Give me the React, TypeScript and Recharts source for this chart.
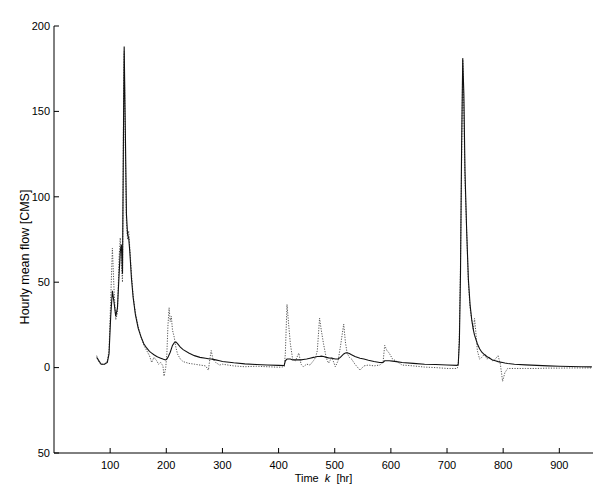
import { LineChart, Line, XAxis, YAxis, Label } from "recharts";

// time in hours
const hours = [
  76, 80, 84, 90, 95, 98, 101, 104, 107, 110, 113, 116, 118, 120, 122, 124, 125, 127, 129, 131,
  133, 135, 138, 141, 145, 150, 155, 160, 165, 170, 174, 178, 183, 186, 190, 194, 196, 199, 201, 203,
  205, 207, 209, 211, 214, 217, 220, 225, 230, 240, 250, 260, 270, 275, 278, 280, 283, 288, 295, 300,
  320, 340, 360, 380, 400, 410, 412, 415, 418, 421, 425, 430, 436, 440, 444, 450, 456, 462, 466, 469,
  473, 476, 480, 485, 489, 495, 501, 506, 510, 516, 519, 522, 526, 530, 536, 545, 552, 560, 570, 580,
  586, 589, 593, 597, 603, 610, 620, 640, 660, 680, 700, 718, 720, 722, 724, 726, 728, 730, 732, 735,
  738, 741, 744, 747, 749, 751, 754, 758, 762, 767, 771, 776, 781, 786, 791, 795, 799, 803, 808, 820,
  840, 860, 880, 900, 920, 940, 958,
];

// measured discharge (dotted)
const observed = [
  7, 3, 2, 2, 4, 10, 40, 70, 45, 28, 32, 65, 76, 60, 50, 160, 185, 130, 85, 75,
  80, 70, 55, 42, 32, 24, 18, 13, 10, 7, 3, 6, 4, 2, 3, 1, -5, 0, 8, 25,
  35, 27, 30, 22, 18, 12, 8, 5, 3.5, 2.5, 2, 1.5, 1, -1.5, 6, 10, 5, 3, 1.5, 2,
  1, 0.5, 0.8, 0.5, 0.2, 0.5, 8, 37, 25, 14, 5, 4, 8.5, 2, 0.5, 2, 1.5, 4, 6, 10,
  29, 22, 14, 5.5, 2.6, 6, 0.5, 4, 12, 25.5, 15, 8.5, 6, 5, 2, -1.5, 1, 1.5, 1, 1.5,
  3, 13, 10, 8.5, 5, 3.7, 1.5, 1, 0.3, 0, -0.5, -0.5, 1, 20, 61, 120, 181, 150, 110, 80,
  50, 35, 28, 22, 28.8, 22, 10, 5, 6, 8, 5, 6, 4, 5, 7, 2, -8, -3, -0.5, -0.5,
  -0.5, -0.5, -0.3, -0.3, -0.2, -0.2, -0.2,
];

// model output (solid)
const modelled = [
  6, 4, 2, 2, 3, 8, 30, 45, 38, 30, 35, 55, 68, 72, 55, 150, 188, 140, 90, 78,
  76, 68, 52, 41, 31, 23, 18, 14, 11.5, 9.5, 8.5, 7.5, 6.5, 6, 5.5, 5, 4.8, 4.5, 5, 6,
  7.5, 9, 11, 13, 14.5, 15, 14, 12, 10.5, 8.5, 7, 6, 5.5, 5.2, 5, 5, 4.8, 4.5, 4, 3.6,
  2.8, 2.2, 1.8, 1.5, 1.3, 1.2, 4, 5, 5, 5, 4.5, 4.5, 4.5, 4.5, 4.7, 5, 5.5, 6, 6.2, 6.5,
  6.5, 6.7, 6.5, 6, 5.7, 5.5, 5, 5, 6, 8, 8.5, 8.7, 8.3, 7.5, 6.5, 5.5, 5, 4.3, 3.6, 3,
  3, 4, 4, 4, 3.8, 3.5, 3, 2.5, 2, 1.8, 1.5, 1.3, 2, 15, 55, 130, 181, 160, 115, 80,
  52, 37, 28, 22, 19, 17, 14, 11, 9, 7.5, 6.5, 5.5, 4.5, 4, 3.5, 3.2, 3, 2.7, 2.4, 2,
  1.6, 1.3, 1, 0.8, 0.6, 0.5, 0.4,
];

const xTicks = [100, 200, 300, 400, 500, 600, 700, 800, 900];
const yTicks = [-50, 0, 50, 100, 150, 200];
const yTickLabels = ["50", "0", "50", "100", "150", "200"];

const data = hours.map((k, i) => ({ k, obs: observed[i], sim: modelled[i] }));

const FONT = "'Liberation Sans', Arial, Helvetica, sans-serif";
const TICK = 5;
const X_GAP = 8;
const Y_GAP = 4;

function BottomTick({ x, y, payload }: any) {
  const y0 = y - X_GAP;
  return (
    <g>
      <line x1={x} x2={x} y1={y0} y2={y0 - TICK} stroke="#000" />
      <text x={x} y={y} dy={8} textAnchor="middle" fontSize={11} fontFamily={FONT} fill="#000">
        {payload.value}
      </text>
    </g>
  );
}

function LeftTick({ x, y, payload }: any) {
  const x0 = x + Y_GAP;
  return (
    <g>
      <line x1={x0} x2={x0 + TICK} y1={y} y2={y} stroke="#000" />
      <text x={x} y={y} dy="0.35em" textAnchor="end" fontSize={11} fontFamily={FONT} fill="#000">
        {yTickLabels[yTicks.indexOf(payload.value)]}
      </text>
    </g>
  );
}

function TopTick({ x, y }: any) {
  return <line x1={x} x2={x} y1={y} y2={y + TICK} stroke="#000" />;
}

function RightTick({ x, y }: any) {
  return <line x1={x} x2={x - TICK} y1={y} y2={y} stroke="#000" />;
}

export default function App() {
  return (
    <div style={{ position: "absolute", left: 0, top: 0, background: "#fff" }}>
      <LineChart
        width={595}
        height={485}
        data={data}
        margin={{ top: 26, right: 2, bottom: 0, left: 0 }}
      >
        <XAxis
          dataKey="k"
          type="number"
          domain={[0, 960]}
          ticks={xTicks}
          allowDataOverflow
          interval={0}
          height={32}
          tickSize={0}
          tickMargin={X_GAP}
          tick={BottomTick}
          axisLine={{ stroke: "#000" }}
        >
          <Label
            content={({ viewBox }: any) => (
              <text
                x={viewBox.x + viewBox.width / 2}
                y={viewBox.y + 29}
                textAnchor="middle"
                fontSize={11}
                fontFamily={FONT}
                fill="#000"
                xmlSpace="preserve"
              >
                Time  <tspan fontStyle="italic">k</tspan>  [hr]
              </text>
            )}
          />
        </XAxis>
        <XAxis
          xAxisId="top"
          dataKey="k"
          type="number"
          orientation="top"
          domain={[0, 960]}
          ticks={xTicks}
          allowDataOverflow
          interval={0}
          height={0}
          tickSize={0}
          tickMargin={0}
          tick={TopTick}
          axisLine={{ stroke: "#000" }}
        >
          <Label
            content={({ viewBox }: any) => (
              <text
                x={viewBox.x + viewBox.width / 2}
                y={viewBox.y - 7}
                textAnchor="middle"
                fontSize={11}
                fontFamily={FONT}
                fill="#000"
              >
                Rainfalldischarge modelling error (MSE) = 47.9018
              </text>
            )}
          />
        </XAxis>
        <YAxis
          type="number"
          domain={[-50, 200]}
          ticks={yTicks}
          allowDataOverflow
          interval={0}
          width={54}
          tickSize={0}
          tickMargin={Y_GAP}
          tick={LeftTick}
          axisLine={{ stroke: "#000" }}
        >
          <Label
            content={() => (
              <text
                x={29}
                y={257}
                transform="rotate(-90 29 257)"
                textAnchor="middle"
                fontSize={12.5}
                fontFamily={FONT}
                fill="#000"
              >
                Hourly mean flow [CMS]
              </text>
            )}
          />
        </YAxis>
        <YAxis
          yAxisId="right"
          type="number"
          orientation="right"
          domain={[-50, 200]}
          ticks={yTicks}
          allowDataOverflow
          interval={0}
          width={0}
          tickSize={0}
          tickMargin={0}
          tick={RightTick}
          axisLine={{ stroke: "#000" }}
        />
        <Line
          xAxisId="top"
          yAxisId="right"
          type="linear"
          dataKey="obs"
          stroke="#555"
          strokeWidth={1}
          strokeDasharray="1.2 1.4"
          dot={false}
          isAnimationActive={false}
        />
        <Line
          type="linear"
          dataKey="sim"
          stroke="#111"
          strokeWidth={1.1}
          dot={false}
          isAnimationActive={false}
        />
      </LineChart>
    </div>
  );
}
